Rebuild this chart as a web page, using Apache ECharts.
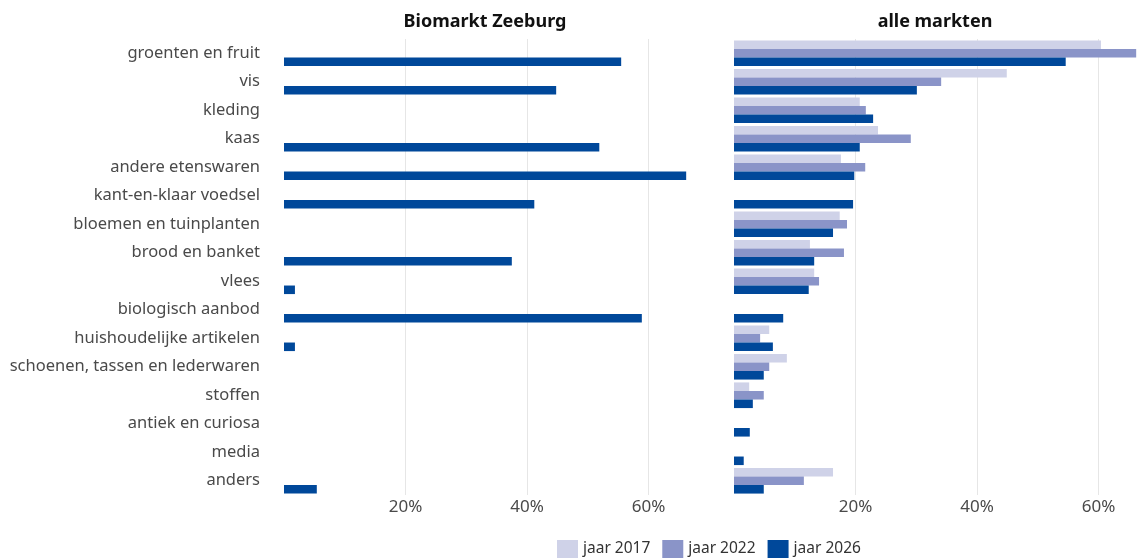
<!DOCTYPE html>
<html>
<head>
<meta charset="utf-8">
<script src="https://cdn.jsdelivr.net/npm/echarts@6/dist/echarts.min.js"></script>
<style>
  html, body { margin: 0; padding: 0; background: #fff; }
  #chart { width: 1138px; height: 560px; }
</style>
</head>
<body>
<div id="chart"></div>
<script>
// categorieen (van boven naar beneden)
var categories = [
  "groenten en fruit", "vis", "kleding", "kaas", "andere etenswaren",
  "kant-en-klaar voedsel", "bloemen en tuinplanten", "brood en banket",
  "vlees", "biologisch aanbod", "huishoudelijke artikelen",
  "schoenen, tassen en lederwaren", "stoffen", "antiek en curiosa",
  "media", "anders"
];
var seriesNames = ["jaar 2017", "jaar 2022", "jaar 2026"];
var tickValues = [20, 40, 60];

// Biomarkt Zeeburg (alleen 2026)
var zeeburg2017 = [null, null, null, null, null, null, null, null, null, null, null, null, null, null, null, null];
var zeeburg2022 = [null, null, null, null, null, null, null, null, null, null, null, null, null, null, null, null];
var zeeburg2026 = [55.5, 44.8, null, 51.9, 66.2, 41.2, null, 37.5, 1.8, 58.9, 1.8, null, null, null, null, 5.4];

// alle markten
var alle2017 = [60.4, 44.9, 20.7, 23.7, 17.6, null, 17.4, 12.5, 13.2, null, 5.8, 8.7, 2.5, null, null, 16.3];
var alle2022 = [66.2, 34.1, 21.7, 29.1, 21.6, null, 18.6, 18.1, 14.0, null, 4.3, 5.8, 4.9, null, null, 11.5];
var alle2026 = [54.6, 30.1, 22.9, 20.7, 19.8, 19.6, 16.3, 13.2, 12.3, 8.1, 6.4, 4.9, 3.1, 2.6, 1.6, 4.9];

var colors = ["#cfd2e8", "#8a94c8", "#00489a"];
var xMax = 66.5;
var fontFamily = "'Noto Sans', sans-serif";

function xAxisOpt(idx) {
  return {
    type: "value",
    gridIndex: idx,
    min: 0,
    max: xMax,
    interval: 20,
    axisLine: { show: false },
    axisTick: { show: false },
    axisLabel: {
      showMinLabel: false,
      showMaxLabel: false,
      color: "#4a4a4a",
      fontSize: 17,
      fontFamily: fontFamily,
      margin: 4,
      formatter: function (v) {
        return tickValues.indexOf(v) >= 0 ? v + "%" : "";
      }
    },
    splitLine: {
      show: true,
      showMinLine: false,
      showMaxLine: false,
      lineStyle: { color: "#e6e6e6", width: 1 }
    }
  };
}

function yAxisOpt(idx, showLabels) {
  return {
    type: "category",
    gridIndex: idx,
    data: categories,
    inverse: true,
    axisLine: { show: false },
    axisTick: { show: false },
    splitLine: { show: false },
    axisLabel: {
      show: showLabels,
      color: "#4a4a4a",
      fontSize: 16.5,
      fontFamily: fontFamily,
      margin: 24
    }
  };
}

function barSeries(name, idx, data, color) {
  return {
    name: name,
    type: "bar",
    xAxisIndex: idx,
    yAxisIndex: idx,
    data: data,
    barGap: "0%",
    barCategoryGap: "10%",
    itemStyle: { color: color },
    emphasis: { disabled: true }
  };
}

var options = {
  animation: false,
  textStyle: { fontFamily: fontFamily },
  title: [
    {
      text: "Biomarkt Zeeburg",
      left: 480,
      top: 8,
      textAlign: "center",
      textStyle: { fontSize: 18, fontWeight: "bold", color: "#111", fontFamily: fontFamily }
    },
    {
      text: "alle markten",
      left: 930,
      top: 8,
      textAlign: "center",
      textStyle: { fontSize: 18, fontWeight: "bold", color: "#111", fontFamily: fontFamily }
    }
  ],
  legend: {
    data: seriesNames,
    left: 552,
    top: 535,
    itemWidth: 21,
    itemHeight: 18,
    itemGap: 12,
    icon: "rect",
    textStyle: { color: "#333", fontSize: 15.5, fontFamily: fontFamily }
  },
  grid: [
    { left: 284, top: 39, width: 404, height: 456 },
    { left: 734, top: 39, width: 404, height: 456 }
  ],
  xAxis: [xAxisOpt(0), xAxisOpt(1)],
  yAxis: [yAxisOpt(0, true), yAxisOpt(1, false)],
  series: [
    barSeries(seriesNames[0], 0, zeeburg2017, colors[0]),
    barSeries(seriesNames[1], 0, zeeburg2022, colors[1]),
    barSeries(seriesNames[2], 0, zeeburg2026, colors[2]),
    barSeries(seriesNames[0], 1, alle2017, colors[0]),
    barSeries(seriesNames[1], 1, alle2022, colors[1]),
    barSeries(seriesNames[2], 1, alle2026, colors[2])
  ]
};

var myChart = echarts.init(document.getElementById("chart"));
myChart.setOption(options);
</script>
</body>
</html>
